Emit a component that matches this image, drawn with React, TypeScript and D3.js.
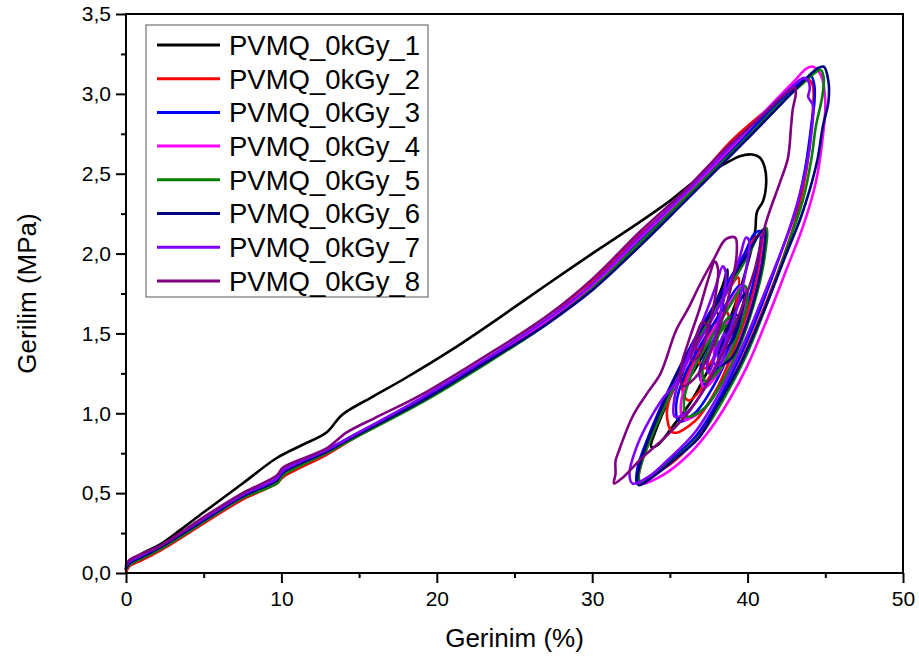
import React, { useEffect, useRef } from "react";
import * as d3 from "d3";

type Pt = [number, number];

// Gerinim (%) , Gerilim (MPa) for each specimen
const PVMQ_1: Pt[] = [
  [0, 0.02], [0.1, 0.06], [1, 0.12], [2.2, 0.18], [3.5, 0.27], [5, 0.38], [7.5, 0.56], [9.7, 0.72],
  [11.3, 0.8], [12.9, 0.88], [13.9, 0.99], [15.8, 1.1], [17.8, 1.21], [21, 1.4], [23.9, 1.59], [27, 1.8],
  [30, 2.0], [33.1, 2.2], [35, 2.33], [36.7, 2.46], [38.5, 2.56], [39.5, 2.61], [40.3, 2.62], [40.8, 2.6],
  [41.1, 2.54], [41.2, 2.45], [41.0, 2.33], [40.6, 2.26], [40.5, 2.15], [40.3, 2.05], [39.6, 1.8], [38.7, 1.55],
  [37.6, 1.3], [36.4, 1.08], [35.2, 0.92], [34.2, 0.8], [33.8, 0.79], [34.2, 0.92], [35.1, 1.12], [36.3, 1.36],
  [37.5, 1.6], [38.4, 1.8], [38.7, 1.9], [38.6, 1.78], [38.1, 1.58], [37.2, 1.38], [36.2, 1.22], [35.7, 1.2],
  [36.1, 1.32], [37.0, 1.5], [37.8, 1.65], [38.1, 1.62], [37.6, 1.46], [36.8, 1.34], [36.6, 1.4], [37.2, 1.52],
  [37.6, 1.55],
];

const PVMQ_2: Pt[] = [
  [0, 0.0], [0.2, 0.04], [1, 0.08], [2.2, 0.14], [5, 0.31], [7.5, 0.46], [9.7, 0.56], [10.1, 0.6],
  [12.9, 0.74], [14.6, 0.84], [18.9, 1.07], [23, 1.31], [27.1, 1.58], [28.4, 1.7], [30.5, 1.87], [33.1, 2.12],
  [36, 2.38], [38.9, 2.7], [41, 2.88], [42.5, 3.0], [43.5, 3.07], [43.9, 3.09], [44.2, 3.05],
  [44.2, 2.9], [43.8, 2.53], [43.2, 2.25], [42.2, 1.95], [40.8, 1.6], [39.3, 1.27], [37.8, 1.0], [36.5, 0.82],
  [35, 0.68], [33.6, 0.6], [33.0, 0.57],
  [33.2, 0.7], [33.9, 0.9], [34.8, 1.1], [35.8, 1.3], [37.2, 1.55], [38.6, 1.78], [39.8, 1.98], [40.5, 2.1],
  [40.9, 2.12], [40.8, 1.95],
  [40.2, 1.7], [39.2, 1.42], [38, 1.15], [36.6, 0.95], [35.2, 0.88], [34.8, 1.0],
  [35.3, 1.18], [36.4, 1.4], [37.6, 1.6], [38.8, 1.78], [39.4, 1.85], [39.3, 1.7],
  [38.6, 1.45], [37.5, 1.22], [36.2, 1.08], [35.8, 1.15],
  [36.4, 1.3], [37.5, 1.5], [38.5, 1.65], [38.8, 1.6], [38.2, 1.42], [37.2, 1.28], [36.8, 1.35], [37.6, 1.5],
  [38.1, 1.52],
];

const PVMQ_3: Pt[] = [
  [0, 0.03], [0.2, 0.06], [1, 0.1], [2.2, 0.16], [5, 0.34], [7.5, 0.48], [9.7, 0.59], [10.1, 0.64],
  [12.9, 0.77], [14.6, 0.86], [18.9, 1.08], [23, 1.32], [27.1, 1.57], [30, 1.79], [33.1, 2.09], [36, 2.36],
  [39.5, 2.7], [41.5, 2.9], [43, 3.04], [43.8, 3.1], [44.1, 3.11], [44.3, 3.05],
  [44.3, 2.95], [44.1, 2.8], [43.7, 2.53], [43.1, 2.27], [42.2, 2.02], [40.8, 1.65], [39.4, 1.33], [38.0, 1.06],
  [36.7, 0.86], [35.2, 0.72], [33.8, 0.6], [32.9, 0.56],
  [32.9, 0.65], [33.6, 0.85], [34.6, 1.08], [35.8, 1.32], [37.2, 1.57], [38.6, 1.8], [39.8, 2.0], [40.4, 2.12],
  [40.8, 2.14], [40.7, 1.98],
  [40.1, 1.72], [39.0, 1.42], [37.8, 1.17], [36.6, 1.0], [35.6, 0.95], [35.4, 1.05],
  [36.0, 1.25], [37.3, 1.48], [38.6, 1.68], [39.5, 1.8], [39.8, 1.75],
  [39.2, 1.52], [38.2, 1.3], [37.2, 1.18], [36.9, 1.25],
  [37.6, 1.42], [38.6, 1.58], [39.1, 1.62], [38.7, 1.48], [38.0, 1.38], [37.8, 1.45], [38.4, 1.55],
];

const PVMQ_4: Pt[] = [
  [0, 0.02], [0.2, 0.05], [1, 0.09], [2.2, 0.15], [5, 0.32], [7.5, 0.47], [9.7, 0.58], [10.1, 0.62],
  [12.9, 0.75], [14.6, 0.85], [18.9, 1.07], [23, 1.31], [27.1, 1.58], [30, 1.8], [33.1, 2.1], [36, 2.37],
  [39.3, 2.7], [41.5, 2.93], [43, 3.08], [43.8, 3.16], [44.2, 3.17], [44.7, 3.12],
  [45.0, 2.95], [44.8, 2.7], [44.4, 2.45], [43.6, 2.18], [42.5, 1.9], [41.3, 1.6], [40.0, 1.3], [38.8, 1.08],
  [37.6, 0.9], [36.2, 0.74], [34.5, 0.61], [33.1, 0.56],
  [33.0, 0.64], [33.7, 0.83], [34.7, 1.05], [35.9, 1.28], [37.3, 1.52], [38.7, 1.76], [39.9, 1.97], [40.6, 2.1],
  [41.0, 2.12], [40.9, 1.95],
  [40.4, 1.72], [39.5, 1.45], [38.4, 1.2], [37.1, 1.02], [35.9, 0.96], [35.7, 1.05],
  [36.3, 1.25], [37.5, 1.47], [38.8, 1.68], [39.7, 1.8], [39.9, 1.72],
  [39.3, 1.5], [38.3, 1.28], [37.2, 1.16], [37.0, 1.24],
  [37.7, 1.42], [38.7, 1.57], [39.1, 1.58], [38.6, 1.44], [37.9, 1.36], [37.9, 1.45], [38.5, 1.54],
];

const PVMQ_5: Pt[] = [
  [0, 0.02], [0.2, 0.05], [1, 0.09], [2.2, 0.15], [5, 0.32], [7.5, 0.47], [9.7, 0.56], [10.1, 0.61],
  [12.9, 0.75], [14.6, 0.84], [18.9, 1.06], [23, 1.3], [27.1, 1.56], [30, 1.78], [33.1, 2.07], [36, 2.35],
  [39.8, 2.71], [42, 2.93], [43.5, 3.06], [44.3, 3.13], [44.7, 3.15], [44.9, 3.1],
  [44.8, 2.98], [44.4, 2.8], [44.1, 2.59], [43.6, 2.35], [42.7, 2.08], [41.3, 1.7], [39.9, 1.36], [38.4, 1.08],
  [37.1, 0.88], [35.6, 0.74], [34.0, 0.62], [33.1, 0.57],
  [33.0, 0.62], [33.6, 0.8], [34.6, 1.03], [35.9, 1.3], [37.4, 1.56], [38.9, 1.8], [40.1, 2.0], [40.8, 2.13],
  [41.2, 2.16], [41.1, 1.98],
  [40.6, 1.75], [39.6, 1.45], [38.4, 1.2], [37.2, 1.03], [36.1, 0.98], [35.9, 1.07],
  [36.5, 1.27], [37.7, 1.48], [38.9, 1.68], [39.8, 1.8], [40.0, 1.72],
  [39.4, 1.5], [38.4, 1.3], [37.3, 1.2], [37.1, 1.28],
  [37.8, 1.45], [38.8, 1.6], [39.2, 1.6], [38.7, 1.46], [38.0, 1.4], [38.1, 1.48], [38.6, 1.55],
];

const PVMQ_6: Pt[] = [
  [0, 0.03], [0.2, 0.06], [1, 0.1], [2.2, 0.16], [5, 0.33], [7.5, 0.48], [9.7, 0.58], [10.1, 0.63],
  [12.9, 0.76], [14.6, 0.85], [18.9, 1.07], [23, 1.31], [27.1, 1.56], [30, 1.77], [33.1, 2.05], [36, 2.33],
  [39.9, 2.71], [42.3, 2.95], [43.8, 3.1], [44.5, 3.16], [44.9, 3.17], [45.2, 3.08],
  [45.2, 2.95], [44.85, 2.8], [44.5, 2.59], [44.0, 2.4], [43.4, 2.22], [42.5, 2.0], [41.0, 1.63], [39.5, 1.3],
  [38.0, 1.04], [36.9, 0.85], [35.4, 0.72], [34.0, 0.61], [33.0, 0.55],
  [32.9, 0.6], [33.4, 0.78], [34.4, 1.02], [35.6, 1.28], [37.1, 1.54], [38.7, 1.8], [40.0, 2.0], [40.8, 2.13],
  [41.1, 2.15], [41.0, 1.98],
  [40.6, 1.78], [39.9, 1.55], [39.0, 1.35], [38.2, 1.3], [38.2, 1.4],
  [38.8, 1.55], [39.5, 1.7], [39.8, 1.75], [39.6, 1.62],
  [39.0, 1.45], [38.5, 1.4], [38.6, 1.5], [39.2, 1.62], [39.4, 1.6], [39.0, 1.5], [38.8, 1.52],
];

const PVMQ_7: Pt[] = [
  [0, 0.04], [0.2, 0.07], [1, 0.11], [2.2, 0.17], [5, 0.34], [7.5, 0.49], [9.7, 0.59], [10.1, 0.64],
  [12.9, 0.77], [14.6, 0.86], [18.9, 1.09], [23, 1.33], [27.1, 1.59], [30, 1.81], [33.1, 2.11], [36, 2.38],
  [39.2, 2.7], [41.5, 2.92], [42.8, 3.04], [43.6, 3.1], [43.9, 3.08], [44.0, 3.03], [43.9, 2.98], [44.2, 2.93],
  [44.1, 2.75], [43.8, 2.55], [43.3, 2.35], [42.5, 2.1], [41.2, 1.78], [39.8, 1.45], [38.2, 1.13], [36.6, 0.88],
  [35.0, 0.72], [33.6, 0.6], [32.6, 0.56],
  [32.4, 0.62], [32.9, 0.8], [33.7, 0.96], [34.6, 1.1], [35.2, 1.17], [36.2, 1.34], [37.6, 1.57], [38.8, 1.8],
  [39.5, 1.98], [39.9, 2.1], [40.1, 2.08], [39.9, 1.9],
  [39.3, 1.65], [38.4, 1.4], [37.2, 1.15], [36.0, 1.0], [35.3, 0.98], [35.3, 1.1],
  [36.0, 1.32], [37.0, 1.55], [37.9, 1.78], [38.4, 1.92], [38.6, 1.88], [38.4, 1.7],
  [37.9, 1.48], [37.4, 1.3], [37.5, 1.25], [38.0, 1.38], [38.5, 1.5], [38.6, 1.42], [38.2, 1.3], [37.8, 1.32],
  [38.2, 1.45],
];

const PVMQ_8: Pt[] = [
  [0, 0.05], [0.2, 0.08], [1, 0.12], [2.2, 0.17], [5, 0.35], [7.5, 0.5], [9.7, 0.61], [10.1, 0.66],
  [12.9, 0.78], [14.2, 0.88], [16, 0.97], [18.9, 1.11], [23, 1.35], [27.1, 1.61], [30, 1.84], [33.1, 2.14],
  [35.8, 2.38], [38.6, 2.66], [40.8, 2.85], [42.2, 2.98], [43.05, 3.04], [43.1, 3.0],
  [42.9, 2.9], [42.8, 2.8], [42.6, 2.6], [42.1, 2.45], [41.2, 2.2], [40.4, 1.88], [39.5, 1.63], [38.6, 1.42],
  [37.6, 1.22], [36.3, 1.02], [34.8, 0.86], [33.2, 0.72], [32.0, 0.6], [31.4, 0.56],
  [31.5, 0.62], [31.5, 0.7], [31.7, 0.76], [32.6, 0.98], [33.5, 1.12], [34.4, 1.25], [35.4, 1.52], [36.2, 1.66],
  [36.9, 1.8], [37.8, 1.96], [38.6, 2.09], [39.2, 2.1], [39.3, 2.0],
  [39.0, 1.82], [38.4, 1.6], [37.6, 1.38], [36.6, 1.22], [35.8, 1.17], [35.7, 1.28],
  [36.2, 1.45], [36.9, 1.65], [37.5, 1.85], [37.9, 1.95], [38.1, 1.9], [37.9, 1.72],
  [37.4, 1.5], [36.8, 1.35], [36.4, 1.33], [36.6, 1.45], [37.1, 1.57], [37.4, 1.55], [37.1, 1.42], [36.7, 1.4],
  [36.9, 1.48],
];

const seriesNames = [
  "PVMQ_0kGy_1", "PVMQ_0kGy_2", "PVMQ_0kGy_3", "PVMQ_0kGy_4",
  "PVMQ_0kGy_5", "PVMQ_0kGy_6", "PVMQ_0kGy_7", "PVMQ_0kGy_8",
];
const seriesData = [PVMQ_1, PVMQ_2, PVMQ_3, PVMQ_4, PVMQ_5, PVMQ_6, PVMQ_7, PVMQ_8];
const seriesColors = [
  "#000000", "#ff0000", "#0000ff", "#ff00ff",
  "#008000", "#000080", "#8000ff", "#800080",
];

const xTicks = [0, 10, 20, 30, 40, 50];
const yTicks = [0, 0.5, 1, 1.5, 2, 2.5, 3, 3.5];

const W = 919;
const H = 665;
const M = { left: 126, right: 16, top: 14, bottom: 92 };
const FONT = "'Liberation Sans', Arial, sans-serif";

const comma = d3.formatLocale({
  decimal: ",",
  thousands: ".",
  grouping: [3],
  currency: ["", ""],
}).format(".1f");

export default function App() {
  const axRef = useRef<SVGGElement>(null);

  const x = d3.scaleLinear().domain([0, 50]).range([M.left, W - M.right]);
  const y = d3.scaleLinear().domain([0, 3.5]).range([H - M.bottom, M.top]);

  const line = d3
    .line<Pt>()
    .x((d) => x(d[0]))
    .y((d) => y(d[1]))
    .curve(d3.curveCatmullRom.alpha(0.5));

  useEffect(() => {
    const g = d3.select(axRef.current);
    g.selectAll("*").remove();

    const xMinor = d3.range(5, 50, 10);
    const yMinor = d3.range(0.25, 3.5, 0.5);

    const xa = g.append("g").attr("transform", `translate(0,${H - M.bottom})`);
    xa.call(
      d3.axisBottom(x).tickValues(xTicks).tickSize(10).tickPadding(8).tickFormat(d3.format("d") as any)
    );
    const xm = g.append("g").attr("transform", `translate(0,${H - M.bottom})`);
    xm.call(d3.axisBottom(x).tickValues(xMinor).tickSize(5).tickFormat(() => ""));

    const ya = g.append("g").attr("transform", `translate(${M.left},0)`);
    ya.call(d3.axisLeft(y).tickValues(yTicks).tickSize(10).tickPadding(5).tickFormat(comma as any));
    const ym = g.append("g").attr("transform", `translate(${M.left},0)`);
    ym.call(d3.axisLeft(y).tickValues(yMinor).tickSize(5).tickFormat(() => ""));

    g.selectAll(".domain").remove();
    g.selectAll(".tick line").attr("stroke", "#000").attr("stroke-width", 2);
    g.selectAll(".tick text")
      .attr("fill", "#000")
      .style("font-family", FONT)
      .style("font-size", "21px");
  }, []);

  const legendRowY = (i: number) => 45 + i * 33.7;

  return (
    <svg
      width={W}
      height={H}
      style={{ position: "absolute", left: 0, top: 0, background: "#fff" }}
      fontFamily={FONT}
    >
      <rect x={0} y={0} width={W} height={H} fill="#fff" />
      <g>
        {seriesData.map((d, i) => (
          <path
            key={seriesNames[i]}
            d={line(d) || ""}
            fill="none"
            stroke={seriesColors[i]}
            strokeWidth={2.6}
            strokeLinejoin="round"
            strokeLinecap="round"
          />
        ))}
      </g>
      <rect
        x={M.left}
        y={M.top}
        width={W - M.left - M.right}
        height={H - M.top - M.bottom}
        fill="none"
        stroke="#000"
        strokeWidth={2}
      />
      <g ref={axRef} />

      <text x={(M.left + W - M.right) / 2} y={647} textAnchor="middle" fontSize={26} fill="#000">
        Gerinim (%)
      </text>
      <text
        transform={`translate(36,${(M.top + H - M.bottom) / 2}) rotate(-90)`}
        textAnchor="middle"
        fontSize={26}
        fill="#000"
      >
        Gerilim (MPa)
      </text>

      <g>
        <rect x={146} y={25} width={282} height={272} fill="#fff" stroke="#555" strokeWidth={1} />
        {seriesNames.map((name, i) => (
          <g key={name}>
            <line
              x1={157}
              x2={220}
              y1={legendRowY(i)}
              y2={legendRowY(i)}
              stroke={seriesColors[i]}
              strokeWidth={3}
            />
            <text x={229} y={legendRowY(i)} dy="0.36em" fontSize={27.5} fill="#000">
              {name}
            </text>
          </g>
        ))}
      </g>
    </svg>
  );
}
